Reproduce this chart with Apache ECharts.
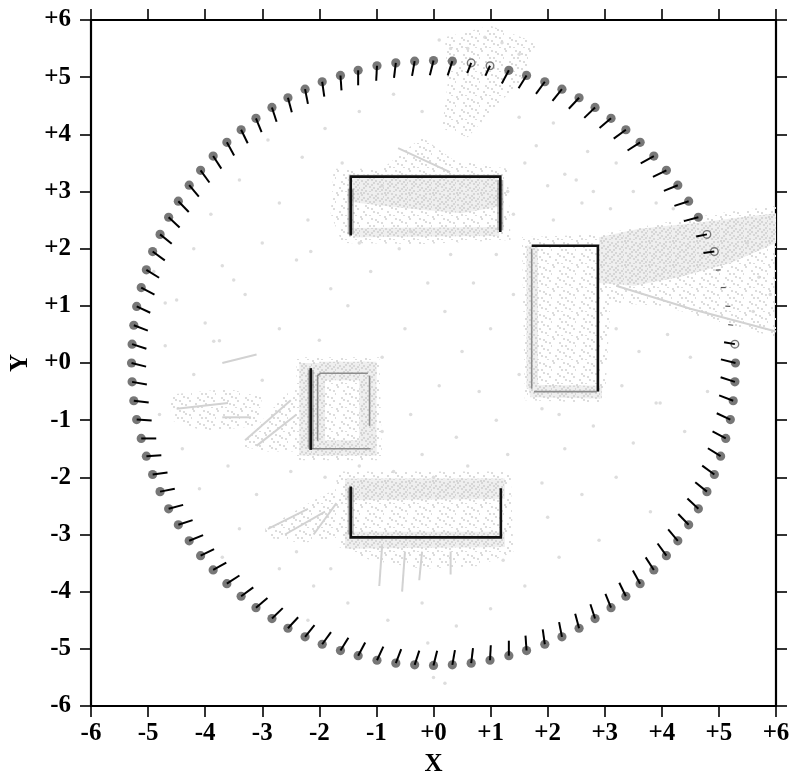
<!DOCTYPE html>
<html>
<head>
<meta charset="utf-8">
<title>Camera ring</title>
<script src="https://cdn.jsdelivr.net/npm/echarts@6/dist/echarts.min.js"></script>
<style>
  html, body { margin: 0; padding: 0; background: #fff; }
  #chart { width: 793px; height: 779px; }
</style>
</head>
<body>
<div id="chart"></div>
<script>
// axis ticks
const tickValues = [-6, -5, -4, -3, -2, -1, 0, 1, 2, 3, 4, 5, 6];
const tickLabels = ['-6', '-5', '-4', '-3', '-2', '-1', '+0', '+1', '+2', '+3', '+4', '+5', '+6'];

// cameras: [x, y, heading in degrees]
const cameras = [
  [5.29, 0.00, 166], [5.28, 0.33, 170], [5.25, 0.66, 173], [5.20, 0.99, 177], [5.12, 1.32, 180],
  [5.03, 1.63, 184], [4.92, 1.95, 188], [4.79, 2.25, 191], [4.64, 2.55, 195], [4.47, 2.83, 198],
  [4.28, 3.11, 202], [4.08, 3.37, 206], [3.86, 3.62, 209], [3.62, 3.86, 213], [3.37, 4.08, 216],
  [3.11, 4.28, 220], [2.83, 4.47, 224], [2.55, 4.64, 227], [2.25, 4.79, 231], [1.95, 4.92, 234],
  [1.63, 5.03, 238], [1.32, 5.12, 242], [0.99, 5.20, 245], [0.66, 5.25, 249], [0.33, 5.28, 252],
  [0.00, 5.29, 256], [-0.33, 5.28, 260], [-0.66, 5.25, 263], [-0.99, 5.20, 267], [-1.32, 5.12, 270],
  [-1.63, 5.03, 274], [-1.95, 4.92, 278], [-2.25, 4.79, 281], [-2.55, 4.64, 285], [-2.83, 4.47, 288],
  [-3.11, 4.28, 292], [-3.37, 4.08, 296], [-3.62, 3.86, 299], [-3.86, 3.62, 303], [-4.08, 3.37, 306],
  [-4.28, 3.11, 310], [-4.47, 2.83, 314], [-4.64, 2.55, 317], [-4.79, 2.25, 321], [-4.92, 1.95, 324],
  [-5.03, 1.63, 328], [-5.12, 1.32, 332], [-5.20, 0.99, 335], [-5.25, 0.66, 339], [-5.28, 0.33, 342],
  [-5.29, 0.00, 346], [-5.28, -0.33, 350], [-5.25, -0.66, 353], [-5.20, -0.99, 357], [-5.12, -1.32, 0],
  [-5.03, -1.63, 4], [-4.92, -1.95, 8], [-4.79, -2.25, 11], [-4.64, -2.55, 15], [-4.47, -2.83, 18],
  [-4.28, -3.11, 22], [-4.08, -3.37, 26], [-3.86, -3.62, 29], [-3.62, -3.86, 33], [-3.37, -4.08, 36],
  [-3.11, -4.28, 40], [-2.83, -4.47, 44], [-2.55, -4.64, 47], [-2.25, -4.79, 51], [-1.95, -4.92, 54],
  [-1.63, -5.03, 58], [-1.32, -5.12, 62], [-0.99, -5.20, 65], [-0.66, -5.25, 69], [-0.33, -5.28, 72],
  [0.00, -5.29, 76], [0.33, -5.28, 80], [0.66, -5.25, 83], [0.99, -5.20, 87], [1.32, -5.12, 90],
  [1.63, -5.03, 94], [1.95, -4.92, 98], [2.25, -4.79, 101], [2.55, -4.64, 105], [2.83, -4.47, 108],
  [3.11, -4.28, 112], [3.37, -4.08, 116], [3.62, -3.86, 119], [3.86, -3.62, 123], [4.08, -3.37, 126],
  [4.28, -3.11, 130], [4.47, -2.83, 134], [4.64, -2.55, 137], [4.79, -2.25, 141], [4.92, -1.95, 144],
  [5.03, -1.63, 148], [5.12, -1.32, 152], [5.20, -0.99, 155], [5.25, -0.66, 159], [5.28, -0.33, 162]
];
// cameras half hidden by the cloud
const hollowCams = [1, 6, 7, 22, 23];
const hiddenCams = [2, 3, 4, 5];

// walls (black polylines)
const wallsDark = [
  [[-1.45, 2.23], [-1.45, 3.26], [1.17, 3.26], [1.17, 2.29]],
  [[1.72, 2.05], [2.88, 2.05], [2.88, -0.50]],
  [[-1.45, -2.16], [-1.45, -3.05], [1.18, -3.05], [1.18, -2.19]],
  [[-2.15, -0.09], [-2.15, -1.52]]
];
const wallsFuzz = [
  [[-1.45, 2.25], [-1.45, 3.05]],
  [[1.17, 2.32], [1.17, 3.2]],
  [[-1.45, -2.18], [-1.45, -3.0]],
  [[-2.15, -0.12], [-2.15, -1.5]]
];
const wallsFaint = [
  [[-2.03, -1.36], [-2.03, -0.22], [-1.98, -0.18], [-1.15, -0.18]],
  [[-1.12, -0.22], [-1.12, -1.1]],
  [[-2.13, -1.5], [-1.1, -1.5]],
  [[1.72, 2.0], [1.72, -0.45]],
  [[1.76, -0.5], [2.86, -0.5]]
];

// point cloud, light areas
const cloudLight = [
  [[-1.75, 3.4], [-0.9, 3.4], [-0.2, 3.95], [0.35, 3.55], [1.3, 3.4], [1.35, 2.15], [-0.2, 2.08], [-1.6, 2.1], [-1.8, 2.6]],
  [[0.2, 5.7], [1.0, 5.9], [1.8, 5.6], [1.6, 5.0], [1.1, 4.5], [0.6, 3.95], [0.15, 4.1], [0.25, 4.9]],
  [[1.55, 2.2], [2.9, 2.25], [4.0, 2.45], [5.0, 2.62], [6.0, 2.75], [6.0, 0.45], [5.0, 0.72], [4.0, 1.0], [3.1, 1.05], [3.0, -0.7], [1.6, -0.65]],
  [[-2.4, 0.1], [-0.95, 0.1], [-0.9, -1.7], [-2.4, -1.7]],
  [[-3.4, -1.45], [-2.6, -0.55], [-2.4, -0.45], [-2.4, -1.55], [-2.9, -1.55]],
  [[-4.6, -0.55], [-3.6, -0.45], [-3.0, -0.6], [-3.1, -1.1], [-4.0, -1.2], [-4.6, -1.0]],
  [[-1.7, -1.9], [1.35, -1.9], [1.4, -3.3], [0.8, -3.55], [-0.2, -3.6], [-1.1, -3.45], [-1.7, -3.2]],
  [[-2.95, -2.9], [-2.1, -2.4], [-1.7, -2.2], [-1.65, -3.05], [-2.3, -3.15], [-2.95, -3.05]]
];
// point cloud, dense areas
const cloudDense = [
  [[-1.5, 3.3], [1.2, 3.3], [1.22, 2.75], [0.5, 2.62], [-0.4, 2.7], [-1.5, 2.82]],
  [[-1.4, 2.36], [1.15, 2.38], [1.15, 2.22], [-1.4, 2.2]],
  [[1.63, 2.05], [1.83, 2.05], [1.83, -0.45], [1.63, -0.45]],
  [[1.65, -0.38], [2.95, -0.4], [2.95, -0.62], [1.7, -0.6]],
  [[2.9, 2.2], [3.6, 2.35], [4.6, 2.45], [5.4, 2.55], [6.0, 2.62], [6.0, 2.1], [5.2, 1.75], [4.3, 1.5], [3.5, 1.35], [2.9, 1.4]],
  [[-2.35, 0.0], [-1.9, 0.0], [-1.9, -1.62], [-2.35, -1.62]],
  [[-1.3, -0.1], [-1.0, -0.1], [-1.0, -1.6], [-1.3, -1.6]],
  [[-2.0, 0.02], [-1.0, 0.02], [-1.0, -0.3], [-2.0, -0.3]],
  [[-2.0, -1.35], [-1.0, -1.35], [-1.0, -1.62], [-2.0, -1.62]],
  [[-1.55, -2.02], [1.25, -2.02], [1.25, -2.38], [-1.55, -2.4]],
  [[-1.55, -2.95], [1.25, -2.95], [1.25, -3.22], [-1.55, -3.25]]
];
// grey streaks in the cloud
const cloudStreaks = [
  [[-0.62, 3.76], [0.29, 3.34]],
  [[3.2, 1.35], [4.5, 0.95], [6.0, 0.55]],
  [[-3.3, -1.35], [-2.5, -0.65]],
  [[-3.1, -1.45], [-2.4, -0.9]],
  [[-3.7, -0.95], [-3.2, -0.95]],
  [[-3.7, 0.0], [-3.1, 0.15]],
  [[-4.5, -0.8], [-3.6, -0.7]],
  [[-2.9, -2.9], [-2.2, -2.55]],
  [[-2.6, -3.0], [-1.9, -2.6]],
  [[-2.1, -3.0], [-1.7, -2.45]],
  [[-0.9, -3.2], [-0.95, -3.9]],
  [[-0.5, -3.3], [-0.55, -4.0]],
  [[-0.2, -3.3], [-0.25, -3.8]],
  [[0.3, -3.3], [0.3, -3.7]]
];
// scattered single points
const cloudPts = [
  [-3.9, 2.6], [-3.4, 3.2], [-2.7, 2.8], [-2.3, 3.6], [-1.9, 4.1], [-1.3, 4.4], [-0.7, 4.7], [-0.2, 4.4],
  [-3.0, 2.1], [-2.4, 1.8], [-3.7, 1.7], [-4.2, 2.0], [-4.5, 1.1], [-4.0, 0.7], [-3.3, 1.2], [-2.7, 0.6],
  [-2.0, 0.4], [-1.5, 1.0], [-1.1, 1.6], [-0.6, 2.0], [-1.3, 2.1], [-2.2, 2.5], [-1.8, 1.3], [-4.7, 0.3],
  [-4.9, 1.6], [-2.9, 3.9], [-1.6, 3.5], [-0.9, 3.1], [-0.4, 2.3], [-0.1, 1.4], [-3.5, 1.45], [-2.15, 1.95],
  [-4.7, 1.05], [-3.85, 0.38], [-3.75, 0.39],
  [0.3, 1.9], [0.7, 1.4], [1.1, 1.9], [0.2, 0.9], [-0.5, 0.6], [-0.9, 0.1], [0.5, 0.2], [1.0, 0.6],
  [1.4, 1.2], [1.5, -0.2], [0.8, -0.5], [0.1, -0.4], [-0.4, -0.9], [0.4, -1.3], [1.1, -1.0], [1.3, -1.6],
  [0.6, -1.8], [-0.2, -1.6], [-0.7, -1.9], [-0.9, -1.2], [0.0, -2.0],
  [1.4, 2.6], [2.1, 2.5], [2.6, 2.8], [3.1, 2.7], [3.5, 3.0], [3.9, 2.8], [2.3, 3.3], [2.7, 3.7],
  [1.8, 3.8], [1.5, 4.3], [2.1, 4.2], [3.2, 3.5], [1.3, 3.0], [1.6, 3.5], [4.2, 2.7], [2.0, 3.1],
  [2.5, 3.2], [2.8, 3.0],
  [3.2, 0.6], [3.6, 0.2], [4.1, 0.5], [4.5, 0.1], [3.3, -0.4], [3.9, -0.7], [4.4, -1.2], [3.5, -1.4],
  [2.8, -1.1], [2.3, -1.5], [1.9, -2.1], [2.6, -2.3], [3.2, -2.0], [3.8, -2.6], [2.9, -3.1], [2.2, -3.4],
  [1.6, -3.9], [1.0, -4.3], [0.4, -4.6], [-0.2, -4.2], [-0.8, -4.5], [1.9, -0.8], [2.2, -0.9], [4.8, -0.5],
  [2.0, -2.7], [1.22, -3.45], [3.97, -0.7],
  [-3.6, -1.8], [-3.1, -2.3], [-2.5, -1.9], [-4.1, -2.2], [-3.4, -2.9], [-2.7, -3.6], [-2.1, -3.9],
  [-1.5, -4.2], [-4.4, -1.5], [-4.8, -0.9], [-1.9, -2.0], [-1.3, -1.8], [-2.4, -3.3], [-1.8, -3.6],
  [-3.0, -0.3], [-4.2, -0.2], [-3.7, -3.4], [-2.2, -4.5],
  [0.6, 5.5], [0.9, 5.7], [1.2, 5.6], [0.3, 5.5], [1.5, 5.4], [0.1, 5.65], [5.5, 2.1], [5.7, 1.5],
  [5.6, 0.9], [5.9, 1.2], [0.0, -5.5], [0.2, -5.6], [-0.1, -4.9]
];

// speckle texture for the cloud patches
function speckle(size, count, dot, bg) {
  const c = document.createElement('canvas');
  c.width = c.height = size;
  const g = c.getContext('2d');
  if (bg) { g.fillStyle = bg; g.fillRect(0, 0, size, size); }
  g.fillStyle = dot;
  for (let i = 0; i < count; i++) {
    const x = (i * 0.618034 * size * 3.1) % size;
    const y = (i * 0.754878 * size * 1.7) % size;
    g.fillRect(Math.floor(x), Math.floor(y), 2, 2);
  }
  return c;
}
const lightFill = { image: speckle(24, 22, '#dcdcdc', null), repeat: 'repeat' };
const denseFill = { image: speckle(24, 50, '#d6d6d6', '#efefef'), repeat: 'repeat' };

function shapeSeries(shapes, kind, style, z) {
  return {
    type: 'custom',
    z: z,
    silent: true,
    data: shapes.map((s, i) => [i]),
    renderItem: function (params, api) {
      const pts = shapes[api.value(0)].map((p) => api.coord(p));
      return { type: kind, shape: { points: pts }, style: style };
    }
  };
}

const fontFamily = '"Liberation Serif", "DejaVu Serif", serif';
const labelStyle = { color: '#000', fontSize: 25, fontWeight: 'bold', fontFamily: fontFamily };

function axis(dim, pos, main) {
  const a = {
    type: 'value',
    position: pos,
    min: -6,
    max: 6,
    interval: 1,
    axisLine: { show: true, onZero: false, lineStyle: { color: '#000', width: 2.2 } },
    axisTick: { show: true, inside: false, length: 11, lineStyle: { color: '#000', width: 1.6 } },
    splitLine: { show: false },
    axisLabel: {
      show: main,
      margin: dim === 'x' ? 15 : 20,
      ...labelStyle,
      formatter: (v) => tickLabels[tickValues.indexOf(v)] || ''
    }
  };
  if (main) {
    a.name = dim === 'x' ? 'X' : 'Y';
    a.nameLocation = 'middle';
    a.nameGap = dim === 'x' ? 46 : 58;
    a.nameTextStyle = labelStyle;
  }
  return a;
}

const chart = echarts.init(document.getElementById('chart'), null, { renderer: 'canvas' });
chart.setOption({
  animation: false,
  backgroundColor: '#fff',
  grid: { left: 91, right: 17, top: 20, bottom: 73, containLabel: false, outerBoundsMode: 'none' },
  xAxis: [axis('x', 'bottom', true), axis('x', 'top', false)],
  yAxis: [axis('y', 'left', true), axis('y', 'right', false)],
  series: [
    shapeSeries(cloudLight, 'polygon', { fill: lightFill }, 1),
    shapeSeries(cloudDense, 'polygon', { fill: denseFill }, 2),
    {
      type: 'scatter',
      z: 3,
      silent: true,
      symbol: 'circle',
      symbolSize: 3.5,
      itemStyle: { color: '#d4d4d4' },
      data: cloudPts
    },
    shapeSeries(cloudStreaks, 'polyline', { fill: null, stroke: '#d2d2d2', lineWidth: 2 }, 4),
    shapeSeries(wallsFaint, 'polyline', { fill: null, stroke: '#8c8c8c', lineWidth: 1.6 }, 5),
    shapeSeries(wallsFuzz, 'polyline', { fill: null, stroke: 'rgba(90,90,90,0.45)', lineWidth: 6 }, 6),
    shapeSeries(wallsDark, 'polyline', { fill: null, stroke: '#111', lineWidth: 2.6 }, 7),
    {
      type: 'custom',
      z: 10,
      silent: true,
      data: cameras.map((c, i) => [c[0], c[1], i]),
      renderItem: function (params, api) {
        const i = api.value(2);
        const cam = cameras[i];
        const p = api.coord([cam[0], cam[1]]);
        const a = cam[2] * Math.PI / 180;
        const hidden = hiddenCams.indexOf(i) >= 0;
        const hollow = hollowCams.indexOf(i) >= 0;
        const len = hidden ? 5 : hollow ? 11 : 15;
        const end = [p[0] + len * Math.cos(a), p[1] - len * Math.sin(a)];
        const kids = [];
        if (!hidden) {
          kids.push({
            type: 'circle',
            shape: { cx: p[0], cy: p[1], r: hollow ? 3.8 : 4.6 },
            style: hollow ? { fill: '#f4f4f4', stroke: '#777', lineWidth: 1.4 } : { fill: '#777' }
          });
        }
        kids.push({
          type: 'line',
          shape: { x1: p[0], y1: p[1], x2: end[0], y2: end[1] },
          style: { stroke: hidden ? '#555' : '#000', lineWidth: hidden ? 1.2 : 2 }
        });
        return { type: 'group', children: kids };
      }
    }
  ]
});
</script>
</body>
</html>
